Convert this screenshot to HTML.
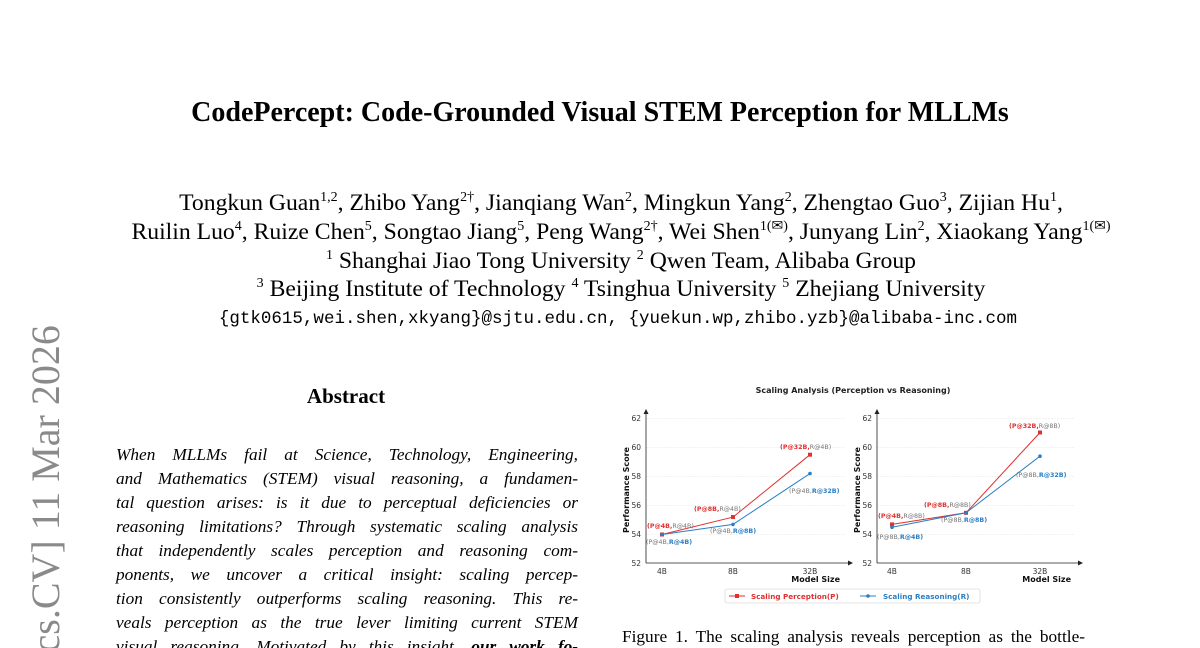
<!DOCTYPE html>
<html style="overflow:hidden;width:1200px;height:648px"><head><meta charset="utf-8"><style>
body{margin:0;width:1200px;height:648px;overflow:hidden;background:#fff;font-family:"Liberation Serif",serif;color:#000}
#w{position:relative;width:1200px;height:648px;overflow:hidden}
.c{position:absolute;left:0;width:1200px;text-align:center;white-space:nowrap}
.a{left:21px}
sup{font-size:14px;vertical-align:9px;line-height:0}
.ab{position:absolute;left:116px;width:462px;font-style:italic;font-size:17.3px}
.ab div{height:24px;line-height:24px;text-align:justify;text-align-last:justify;white-space:nowrap}
</style></head><body><div id="w">
<div class="c" style="top:97px;font-size:28px;font-weight:bold">CodePercept: Code-Grounded Visual STEM Perception for MLLMs</div>
<div class="c a" style="top:190px;font-size:23.7px">Tongkun Guan<sup>1,2</sup>, Zhibo Yang<sup>2†</sup>, Jianqiang Wan<sup>2</sup>, Mingkun Yang<sup>2</sup>, Zhengtao Guo<sup>3</sup>, Zijian Hu<sup>1</sup>,</div>
<div class="c a" style="top:219px;font-size:23.7px">Ruilin Luo<sup>4</sup>, Ruize Chen<sup>5</sup>, Songtao Jiang<sup>5</sup>, Peng Wang<sup>2†</sup>, Wei Shen<sup>1(✉)</sup>, Junyang Lin<sup>2</sup>, Xiaokang Yang<sup>1(✉)</sup></div>
<div class="c a" style="top:248px;font-size:23.7px"><sup>1</sup> Shanghai Jiao Tong University <sup>2</sup> Qwen Team, Alibaba Group</div>
<div class="c a" style="top:276px;font-size:23.7px"><sup>3</sup> Beijing Institute of Technology <sup>4</sup> Tsinghua University <sup>5</sup> Zhejiang University</div>
<div class="c" style="left:18px;top:309px;font-size:17.5px;font-family:'Liberation Mono',monospace">{gtk0615,wei.shen,xkyang}@sjtu.edu.cn, {yuekun.wp,zhibo.yzb}@alibaba-inc.com</div>
<div style="position:absolute;left:26px;top:1008px;transform:rotate(-90deg);transform-origin:0 0;font-size:40px;color:#8a8a8a;white-space:nowrap;line-height:40px">arXiv:2603.10757v1 [cs.CV] 11 Mar 2026</div>
<div style="position:absolute;left:246px;width:200px;top:384px;text-align:center;font-size:21px;font-weight:bold">Abstract</div>
<div class="ab" style="top:443px">
<div>When MLLMs fail at Science, Technology, Engineering,</div>
<div>and Mathematics (STEM) visual reasoning, a fundamen-</div>
<div>tal question arises: is it due to perceptual deficiencies or</div>
<div>reasoning limitations? Through systematic scaling analysis</div>
<div>that independently scales perception and reasoning com-</div>
<div>ponents, we uncover a critical insight: scaling percep-</div>
<div>tion consistently outperforms scaling reasoning. This re-</div>
<div>veals perception as the true lever limiting current STEM</div>
<div>visual reasoning. Motivated by this insight, <b>our work fo-</b></div>
</div>
<div style="position:absolute;left:622px;top:627px;width:463px;font-size:17.3px;text-align:justify;text-align-last:justify;white-space:nowrap">Figure 1. The scaling analysis reveals perception as the bottle-</div>
<svg style="position:absolute;left:0;top:0" width="1200" height="648" font-family="'DejaVu Sans',sans-serif">
<text x="853" y="393" font-size="8" font-weight="bold" text-anchor="middle" fill="#222">Scaling Analysis (Perception vs Reasoning)</text>
<g font-size="7.5" fill="#333">
<g stroke="#e6e6e6" stroke-width="0.6" stroke-dasharray="2,1">
<line x1="646" x2="845" y1="418.5" y2="418.5"/><line x1="646" x2="845" y1="447.5" y2="447.5"/><line x1="646" x2="845" y1="476.5" y2="476.5"/><line x1="646" x2="845" y1="505.5" y2="505.5"/><line x1="646" x2="845" y1="534.5" y2="534.5"/>
<line x1="877" x2="1075" y1="418.5" y2="418.5"/><line x1="877" x2="1075" y1="447.5" y2="447.5"/><line x1="877" x2="1075" y1="476.5" y2="476.5"/><line x1="877" x2="1075" y1="505.5" y2="505.5"/><line x1="877" x2="1075" y1="534.5" y2="534.5"/>
</g>
<g stroke="#222" stroke-width="0.8"><line x1="646" y1="563" x2="850" y2="563"/><line x1="646" y1="563" x2="646" y2="412"/><line x1="877" y1="563" x2="1080" y2="563"/><line x1="877" y1="563" x2="877" y2="412"/></g>
<g fill="#222"><path d="M646 409 l-2.5 5 h5z"/><path d="M853 563 l-5 -2.5 v5z"/><path d="M877 409 l-2.5 5 h5z"/><path d="M1083 563 l-5 -2.5 v5z"/></g>
<g text-anchor="end"><text x="641" y="421">62</text><text x="641" y="450">60</text><text x="641" y="479">58</text><text x="641" y="508">56</text><text x="641" y="537">54</text><text x="641" y="566">52</text>
<text x="872" y="421">62</text><text x="872" y="450">60</text><text x="872" y="479">58</text><text x="872" y="508">56</text><text x="872" y="537">54</text><text x="872" y="566">52</text></g>
<g text-anchor="middle"><text x="662" y="574">4B</text><text x="733" y="574">8B</text><text x="810" y="574">32B</text><text x="892" y="574">4B</text><text x="966" y="574">8B</text><text x="1040" y="574">32B</text></g>
<g font-weight="bold" font-size="8" fill="#111"><text x="840" y="582" text-anchor="end">Model Size</text><text x="1071" y="582" text-anchor="end">Model Size</text>
<text transform="translate(629,490) rotate(-90)" text-anchor="middle">Performance Score</text><text transform="translate(860,490) rotate(-90)" text-anchor="middle">Performance Score</text></g>
<polyline fill="none" stroke="#e03030" stroke-width="1" points="662,534.5 733,517.1 810,454.7"/>
<polyline fill="none" stroke="#2a7fc4" stroke-width="1" points="662,534.5 733,524.4 810,473.6"/>
<polyline fill="none" stroke="#e03030" stroke-width="1" points="892,524.4 966,512.8 1040,432.5"/>
<polyline fill="none" stroke="#2a7fc4" stroke-width="1" points="892,527.3 966,512.8 1040,456.2"/>
<g fill="#e03030"><rect x="660" y="532.5" width="4" height="4"/><rect x="731" y="515" width="4" height="4"/><rect x="808" y="452.7" width="4" height="4"/><rect x="890" y="522.4" width="4" height="4"/><rect x="964" y="510.8" width="4" height="4"/><rect x="1038" y="430.5" width="4" height="4"/></g>
<g fill="#2a7fc4"><circle cx="662" cy="534.5" r="1.8"/><circle cx="733" cy="524.4" r="1.8"/><circle cx="810" cy="473.6" r="1.8"/><circle cx="892" cy="527.3" r="1.8"/><circle cx="966" cy="512.8" r="1.8"/><circle cx="1040" cy="456.2" r="1.8"/></g>
<g font-size="6.3">
<text x="647" y="528"><tspan fill="#e03030" font-weight="bold">(P@4B,</tspan><tspan fill="#777">R@4B)</tspan></text>
<text x="646" y="544"><tspan fill="#777">(P@4B,</tspan><tspan fill="#2a7fc4" font-weight="bold">R@4B)</tspan></text>
<text x="694" y="511"><tspan fill="#e03030" font-weight="bold">(P@8B,</tspan><tspan fill="#777">R@4B)</tspan></text>
<text x="710" y="533"><tspan fill="#777">(P@4B,</tspan><tspan fill="#2a7fc4" font-weight="bold">R@8B)</tspan></text>
<text x="780" y="449"><tspan fill="#e03030" font-weight="bold">(P@32B,</tspan><tspan fill="#777">R@4B)</tspan></text>
<text x="789" y="493"><tspan fill="#777">(P@4B,</tspan><tspan fill="#2a7fc4" font-weight="bold">R@32B)</tspan></text>
<text x="878" y="518"><tspan fill="#e03030" font-weight="bold">(P@4B,</tspan><tspan fill="#777">R@8B)</tspan></text>
<text x="877" y="539"><tspan fill="#777">(P@8B,</tspan><tspan fill="#2a7fc4" font-weight="bold">R@4B)</tspan></text>
<text x="924" y="507"><tspan fill="#e03030" font-weight="bold">(P@8B,</tspan><tspan fill="#777">R@8B)</tspan></text>
<text x="941" y="522"><tspan fill="#777">(P@8B,</tspan><tspan fill="#2a7fc4" font-weight="bold">R@8B)</tspan></text>
<text x="1009" y="428"><tspan fill="#e03030" font-weight="bold">(P@32B,</tspan><tspan fill="#777">R@8B)</tspan></text>
<text x="1016" y="477"><tspan fill="#777">(P@8B,</tspan><tspan fill="#2a7fc4" font-weight="bold">R@32B)</tspan></text>
</g>
<rect x="725" y="589" width="255" height="14" fill="#fff" stroke="#ccc" stroke-width="0.6" rx="2"/>
<line x1="729" y1="596" x2="745" y2="596" stroke="#e03030"/><rect x="735" y="594" width="4" height="4" fill="#e03030"/>
<text x="751" y="599" font-size="7.2" font-weight="bold" fill="#e03030">Scaling Perception(P)</text>
<line x1="860" y1="596" x2="876" y2="596" stroke="#2a7fc4"/><circle cx="868" cy="596" r="1.8" fill="#2a7fc4"/>
<text x="883" y="599" font-size="7.2" font-weight="bold" fill="#2a7fc4">Scaling Reasoning(R)</text>
</g>
</svg>
</div></body></html>
